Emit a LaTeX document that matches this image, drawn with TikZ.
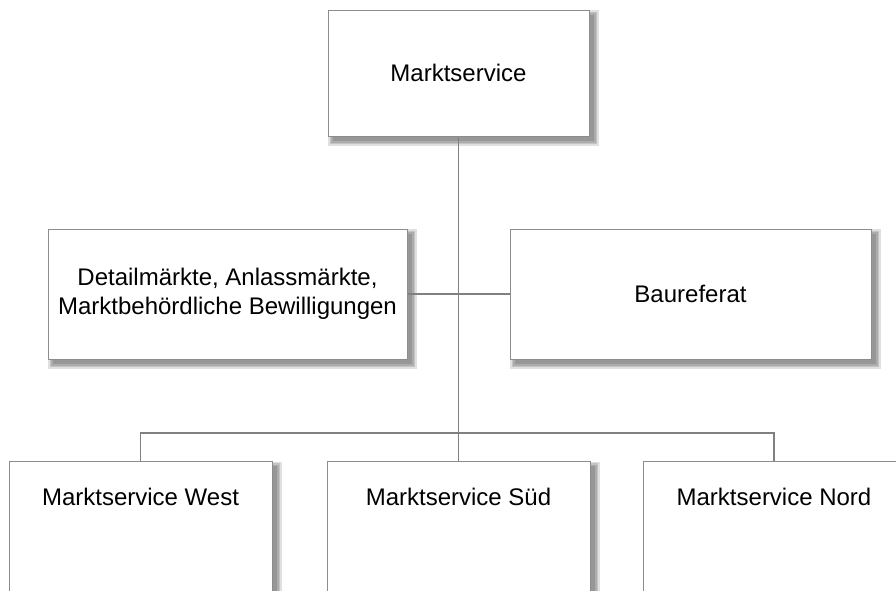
\documentclass[tikz,border=0pt]{standalone}
\usepackage{fontspec}
\setmainfont{Liberation Sans}
\usetikzlibrary{calc}
\pgfdeclarelayer{bg}
\pgfdeclarelayer{shade}
\pgfsetlayers{shade,bg,main}
\begin{document}
\begin{tikzpicture}[x=1pt,y=-1pt,
  box/.style={draw=black!45,line width=0.9pt,fill=white,inner sep=0pt},
  txt/.style={font=\fontsize{24}{28.5}\selectfont,align=center,inner sep=0pt},
  conn/.style={draw=black!50,line width=1.5pt}]
\useasboundingbox (0,0) rectangle (896,590);
\clip (0,0) rectangle (896,590);
\node[box,minimum width=261pt,minimum height=126pt] (top) at (458.5,73) {};
\node[box,minimum width=359pt,minimum height=130pt] (left) at (227.5,294) {};
\node[box,minimum width=361pt,minimum height=130pt] (right) at (690.5,294) {};
\node[box,minimum width=263pt,minimum height=160pt,anchor=north] (west) at (140.5,461) {};
\node[box,minimum width=263pt,minimum height=160pt,anchor=north] (sued) at (458.5,461) {};
\node[box,minimum width=262pt,minimum height=160pt,anchor=north] (nord) at (774,461) {};
\coordinate (bar) at (458.5,433);
\begin{pgfonlayer}{shade}
\fill[white] (0,0) rectangle (896,590);
\foreach \n in {top,left,right,west,sued,nord}{
  \foreach \k in {0,1.5,3,4.5}{
    \fill[black,opacity=0.12] ($(\n.north west)+(5-\k,5-\k)$) rectangle ($(\n.south east)+(5+\k,5+\k)$);
  }
}
\end{pgfonlayer}
\begin{pgfonlayer}{bg}
\path[conn] (top.south) -- (bar);
\path[conn] (left.east) -- (right.west);
\path[conn] (west.north) |- (bar) -| (nord.north);
\path[conn] (bar) -- (sued.north);
\end{pgfonlayer}
\node[txt] (toptxt) at (top) {Marktservice};
\node[txt] (lefttxt) at (left) {Detailmärkte, Anlassmärkte,\\Marktbehördliche Bewilligungen};
\node[txt] (righttxt) at (right) {Baureferat};
\node[txt] (westtxt) at (140.5,497) {Marktservice West};
\node[txt] (suedtxt) at (458.5,497) {Marktservice Süd};
\node[txt] (nordtxt) at (774,497) {Marktservice Nord};
\end{tikzpicture}
\end{document}
